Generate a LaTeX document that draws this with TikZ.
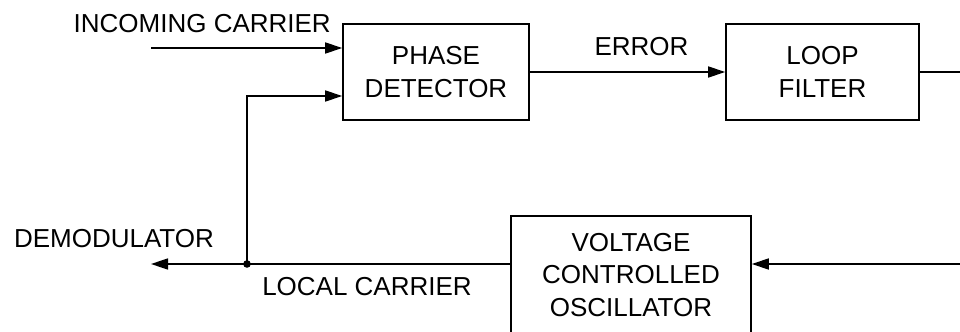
\documentclass[tikz,border=0pt]{standalone}
\usepackage{fontspec}
\setmainfont{Liberation Sans}
\usetikzlibrary{arrows.meta,positioning}

\begin{document}
\begin{tikzpicture}[
    x=0.5pt, y=-0.5pt,
    every node/.style={font=\fontsize{13}{16.25}\selectfont, inner sep=0pt},
    block/.style={draw, line width=0.8pt, align=center, minimum height=48pt},
    wire/.style={draw, line width=0.8pt},
    sig/.style={wire, -{Triangle[length=8.5pt,width=5.5pt]}}
]
\useasboundingbox (0,0) rectangle (960,332);
\clip (0,0) rectangle (960,332);

\node[block, minimum width=93pt] (detector) at (436,72) {PHASE\\DETECTOR};
\node[block, minimum width=96.5pt] (filter) at (822.5,72) {LOOP\\FILTER};
\node[block, minimum width=120pt, minimum height=59pt] (vco) at (631,275) {VOLTAGE\\CONTROLLED\\OSCILLATOR};

\coordinate (carrier) at (151,48);
\coordinate (demod) at (151,264);
\coordinate (tap) at (247,264);

% loop
\draw[sig] (carrier) -- ([yshift=12pt]detector.west);
\draw[sig] (detector) -- (filter);
\draw[sig] (filter.east) -- ++(40pt,0) |- ([yshift=5.5pt]vco.east);
\draw[sig] ([yshift=5.5pt]vco.west) -- (demod);
\draw[sig] (tap) |- ([yshift=-12pt]detector.west);
\fill (tap) circle (1.9pt);

% labels
\node[left=5.5pt of detector.north west] (incoming) {INCOMING CARRIER};
\node (error) at (641.5,47) {ERROR};
\node (demodlabel) at (114,239) {DEMODULATOR};
\node (local) at (367,286.5) {LOCAL CARRIER};
\end{tikzpicture}
\end{document}
